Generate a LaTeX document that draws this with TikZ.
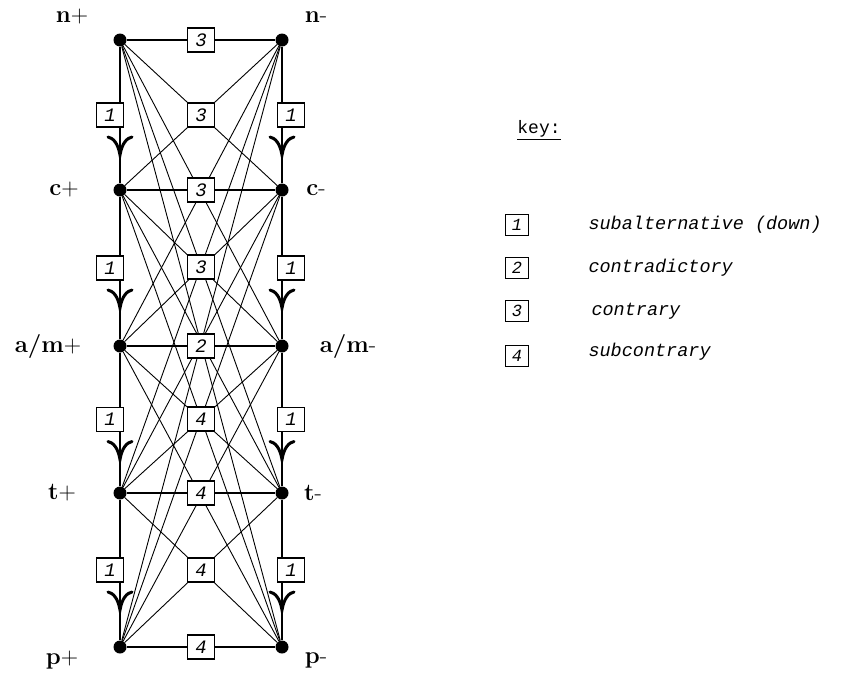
\documentclass[tikz,border=0pt]{standalone}
\usepackage{fontspec}
\newfontfamily\keyfont{Liberation Mono}
\begin{document}
\begin{tikzpicture}[x=1pt,y=-1pt,
  dot/.style={circle,fill=black,inner sep=0pt,minimum size=13pt},
  relbox/.style={draw,fill=white,line width=1.1pt,minimum width=27pt,minimum height=24pt,inner sep=0pt,
    font=\keyfont\itshape\fontsize{19}{19}\selectfont},
  keybox/.style={relbox,minimum width=23pt,minimum height=21pt,font=\keyfont\itshape\fontsize{17}{17}\selectfont},
  edge/.style={line width=0.9pt},
  side/.style={line width=1.4pt},
  vlabel/.style={font=\fontsize{24}{24}\selectfont},
  keytext/.style={anchor=west,font=\keyfont\itshape\fontsize{18.5}{18.5}\selectfont}
]
\newcommand\downarr[2]{\draw[line width=3pt,line cap=round]
  (#1-12,#2-18) .. controls (#1-7,#2-17) and (#1-2,#2-12) .. (#1,#2)
  .. controls (#1+2,#2-12) and (#1+7,#2-17) .. (#1+12,#2-18);}
\fill[white] (0,0) rectangle (858,686);
\useasboundingbox (0,0) rectangle (858,686);

% vertices
\foreach \i/\y in {0/40,1/190,2/346,3/493,4/647}{
  \node[dot] (L\i) at (120,\y) {};
  \node[dot] (R\i) at (282,\y) {};
}

% all left-right relations
\foreach \i in {0,...,4}{
  \foreach \j in {0,...,4}{
    \draw[edge] (L\i) -- (R\j);
  }
  \draw[side] (L\i) -- (R\i);
}

% subalternation columns
\foreach \i/\j in {0/1,1/2,2/3,3/4}{
  \draw[side] (L\i) -- (L\j);
  \draw[side] (R\i) -- (R\j);
}
\foreach \m/\i in {115/0,268/1,419.5/2,570/3}{
  \node[relbox] (BL\i) at (110,\m) {1};
  \node[relbox] (BR\i) at (291,\m) {1};
  \downarr{120}{\m+40}
  \downarr{282}{\m+40}
}

% centre relation boxes
\node[relbox] (C0) at (201,40) {3};
\node[relbox] (C1) at (201,115) {3};
\node[relbox] (C2) at (201,190) {3};
\node[relbox] (C3) at (201,267) {3};
\node[relbox] (C4) at (201,346) {2};
\node[relbox] (C5) at (201,419) {4};
\node[relbox] (C6) at (201,493) {4};
\node[relbox] (C7) at (201,570) {4};
\node[relbox] (C8) at (201,647) {4};

% vertex labels
\node[vlabel] (ln0) at (72,17) {\textbf{n}+};
\node[vlabel] (rn0) at (316,17) {\textbf{n}-};
\node[vlabel] (ln1) at (64,190) {\textbf{c}+};
\node[vlabel] (rn1) at (316,190) {\textbf{c}-};
\node[vlabel] (ln2) at (48,346) {\textbf{a/m}+};
\node[vlabel] (rn2) at (348,346) {\textbf{a/m}-};
\node[vlabel] (ln3) at (62,493) {\textbf{t}+};
\node[vlabel] (rn3) at (313,493) {\textbf{t}-};
\node[vlabel] (ln4) at (62,660) {\textbf{p}+};
\node[vlabel] (rn4) at (316,660) {\textbf{p}-};

% key
\node[font=\keyfont\fontsize{18}{18}\selectfont] (key) at (539,130) {\underline{key:}};
\node[keybox] (K1) at (517,225) {1};
\node[keybox] (K2) at (517,268) {2};
\node[keybox] (K3) at (517,311) {3};
\node[keybox] (K4) at (517,356) {4};
\node[keytext] (T1) at (585,225) {subalternative (down)};
\node[keytext] (T2) at (585,268) {contradictory};
\node[keytext] (T3) at (588,311) {contrary};
\node[keytext] (T4) at (585,352) {subcontrary};
\end{tikzpicture}
\end{document}
